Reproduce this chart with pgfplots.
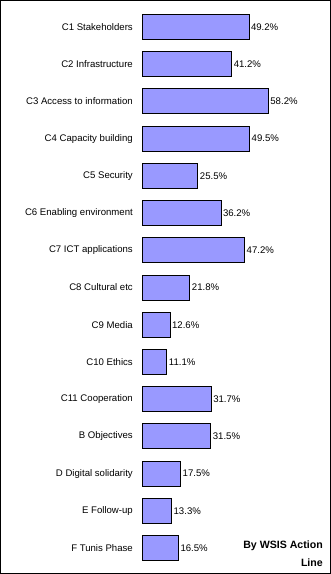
\documentclass[border=0pt]{standalone}
\usepackage{pgfplots}
\pgfplotsset{compat=1.18}
\usepackage{fontspec}
\setmainfont{Liberation Sans}
\begin{document}
\begin{tikzpicture}
\useasboundingbox (0,0) rectangle (331pt,574pt);
\draw[line width=1pt] (0.5pt,0.5pt) rectangle (330.5pt,573.5pt);
\begin{axis}[
  at={(143pt,7.4pt)}, anchor=south west,
  scale only axis, width=167pt, height=558.2pt,
  xbar, bar width=25pt,
  xmin=0, xmax=77.5,
  ymin=-0.5, ymax=14.5, y dir=reverse,
  axis line style={draw=none},
  xtick=\empty,
  ytick={0,...,14},
  yticklabels={C1 Stakeholders, C2 Infrastructure, C3 Access to information, C4 Capacity building, C5 Security, C6 Enabling environment, C7 ICT applications, C8 Cultural etc, C9 Media, C10 Ethics, C11 Cooperation, B Objectives, D Digital solidarity, E Follow-up, F Tunis Phase},
  major tick length=0pt,
  yticklabel style={anchor=east, inner sep=0pt, xshift=-10pt, font=\fontsize{9.6}{12}\selectfont},
  /pgf/number format/assume math mode=true,
  nodes near coords={\pgfmathprintnumber[fixed,precision=1,zerofill,assume math mode=true]{\pgfplotspointmeta}\%},
  point meta=explicit,
  nodes near coords style={anchor=west, inner sep=1.5pt, font=\fontsize{9.6}{12}\selectfont},
  clip=false,
]
\addplot[fill={rgb,255:red,153;green,153;blue,255}, draw=black, line width=1pt] table[x=v, y=i, meta=v] {
i v
0 49.2
1 41.2
2 58.2
3 49.5
4 25.5
5 36.2
6 47.2
7 21.8
8 12.6
9 11.1
10 31.7
11 31.5
12 17.5
13 13.3
14 16.5
};
\end{axis}
\node[anchor=east, align=right, inner sep=0pt, font=\bfseries\fontsize{10.6}{18}\selectfont] at (323pt,20pt) {By WSIS Action\\Line};
\end{tikzpicture}
\end{document}
